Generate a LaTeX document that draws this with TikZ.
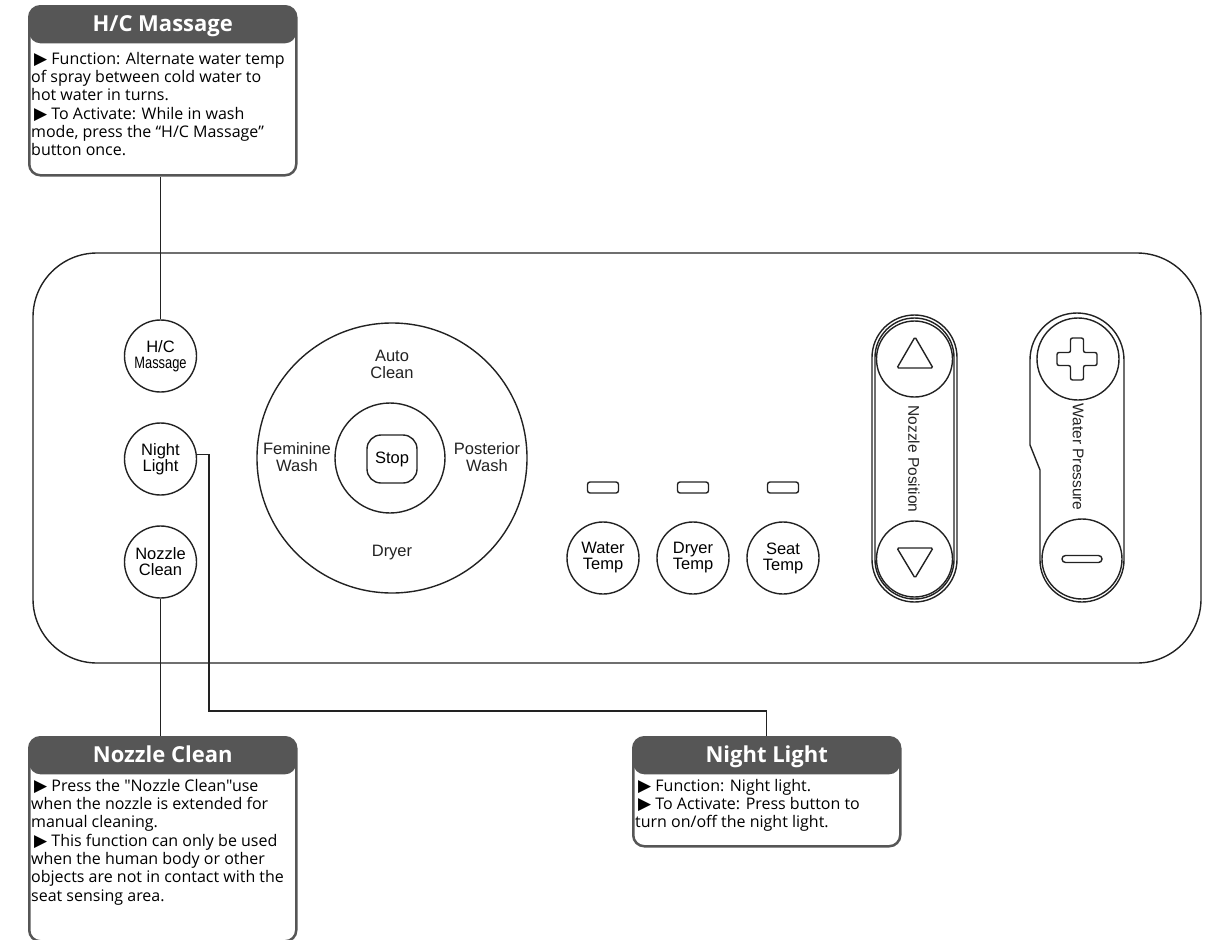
\documentclass[tikz,border=0pt]{standalone}
\usepackage{fontspec}
\setmainfont{Liberation Sans}
\newfontfamily\callfont{Open Sans}
\newfontfamily\arrowfont{DejaVu Sans}
\newcommand{\tribul}{\hspace{3pt}{\arrowfont\fontsize{17}{17}\selectfont ▶}}
\definecolor{hdrgray}{HTML}{565656}
\definecolor{inkgray}{HTML}{222222}
\tikzset{
  panel/.style={draw=inkgray, line width=1.4},
  wire/.style={draw=inkgray, line width=1.2},
  btn/.style={draw=inkgray, circle, line width=1.4, minimum size=72, inner sep=0, align=center, font=\fontsize{16.5}{16}\selectfont},
  keyring/.style={draw=inkgray, circle, line width=1.4, inner sep=0},
  sym/.style={draw=inkgray, line width=1.4},
  lbl/.style={align=center, inner sep=0, text=inkgray, font=\fontsize{16.5}{17}\selectfont},
  ledbox/.style={draw=inkgray, line width=1.4, rounded corners=2.5, minimum width=31, minimum height=11, inner sep=0},
  callbox/.style={draw=hdrgray, line width=2.5, rounded corners=11, anchor=north west, inner sep=0,
    path picture={\fill[hdrgray] (path picture bounding box.north west) rectangle ([yshift=-37pt]path picture bounding box.north east);}},
  hdrtext/.style={anchor=base, text=white, inner sep=0, font=\callfont\bfseries\fontsize{22}{22}\selectfont},
  bodytext/.style={anchor=north west, align=left, inner sep=0, text=black, font=\callfont\fontsize{16}{18.3}\selectfont}
}
\begin{document}
\begin{tikzpicture}[x=1pt,y=1pt]
\useasboundingbox (0,0) rectangle (1219,-940);

\draw[panel, rounded corners=64] (33,-253) rectangle (1201,-663);

\node[callbox, minimum width=267, minimum height=169] (hcbox) at (28,-5) {};
\node[hdrtext] at ([yshift=-26]hcbox.north) {H/C Massage};
\node[bodytext] at (31,-52) {\tribul{} Function: Alternate water temp\\of spray between cold water to\\hot water in turns.\\\tribul{} To Activate: While in wash\\mode, press the “H/C Massage”\\button once.};

\node[callbox, minimum width=267, minimum height=204] (ncbox) at (28,-736) {};
\node[hdrtext] at ([yshift=-26]ncbox.north) {Nozzle Clean};
\node[bodytext] at (31,-779) {\tribul{} Press the "Nozzle Clean"use\\when the nozzle is extended for\\manual cleaning.\\\tribul{} This function can only be used\\when the human body or other\\objects are not in contact with the\\seat sensing area.};

\node[callbox, minimum width=267, minimum height=109] (nlbox) at (632,-736) {};
\node[hdrtext] at ([yshift=-26]nlbox.north) {Night Light};
\node[bodytext] at (635,-779) {\tribul{} Function: Night light.\\\tribul{} To Activate: Press button to\\turn on/off the night light.};

\node[btn] (hcbtn) at (160.5,-356) {H/C\\\scalebox{0.78}[1]{Massage}};
\node[btn] (nlbtn) at (160.5,-459) {Night\\Light};
\node[btn] (ncbtn) at (160.5,-562) {Nozzle\\Clean};

\coordinate (nlturn) at (209,-711);
\draw[wire] (hcbtn.north) -- (hcbtn.north |- hcbox.south);
\draw[wire] (nlbtn.7) -| (nlturn) -| (nlbox.north);
\draw[wire] (ncbtn.south) -- (ncbtn.south |- ncbox.north);

\node[keyring, minimum size=270] (dial) at (392,-458) {};
\node[keyring, minimum size=110] (dialcore) at (390,-458) {};
\node[draw=inkgray, line width=1.4, rounded corners=14, minimum width=50, minimum height=48, inner sep=0, font=\fontsize{16.5}{17}\selectfont] (stop) at (392,-459) {Stop};
\node[lbl] (autoclean) at (392,-364) {Auto\\Clean};
\node[lbl] (femwash) at (297,-457) {Feminine\\Wash};
\node[lbl] (postwash) at (487,-457) {Posterior\\Wash};
\node[lbl] (dryer) at (392,-553) {Dryer};

\foreach \x/\t in {603/Water, 693/Dryer, 783/Seat} {
  \node[ledbox] (led\t) at (\x,-487.5) {};
  \node[btn] (btn\t) at (\x,-558) {\t\\Temp};
}

\draw[panel, rounded corners=42.5] (872,-315) rectangle (957,-602);
\draw[panel, rounded corners=39.5] (875,-318) rectangle (954,-599);
\node[keyring, minimum size=76] (nzup) at (914.5,-359) {};
\node[keyring, minimum size=76] (nzdown) at (914.5,-559) {};
\draw[sym, rounded corners=1.5] (915,-337) -- (897,-368) -- (933,-368) -- cycle;
\draw[sym, rounded corners=1.5] (915,-578) -- (897,-548) -- (933,-548) -- cycle;
\node[lbl, rotate=-90, font=\fontsize{15.5}{15.5}\selectfont] (nzlabel) at (914,-459) {Nozzle Position};

\draw[panel] (1124,-360) arc (0:180:47) -- (1030,-445) -- (1040,-470) -- (1040,-560) arc (180:360:42) -- cycle;
\node[keyring, minimum size=82] (wpup) at (1078,-359) {};
\node[keyring, minimum size=80] (wpdown) at (1082,-559) {};
\draw[sym, rounded corners=2] (1070.5,-338) -- (1083.5,-338) -- (1083.5,-352.5) -- (1097,-352.5) -- (1097,-365.5) -- (1083.5,-365.5) -- (1083.5,-380) -- (1070.5,-380) -- (1070.5,-365.5) -- (1057,-365.5) -- (1057,-352.5) -- (1070.5,-352.5) -- cycle;
\draw[sym, rounded corners=3.5] (1062,-555.5) rectangle (1102,-562.5);
\node[lbl, rotate=-90, font=\fontsize{15.5}{15.5}\selectfont] (wplabel) at (1078,-457) {Water Pressure};
\end{tikzpicture}
\end{document}
